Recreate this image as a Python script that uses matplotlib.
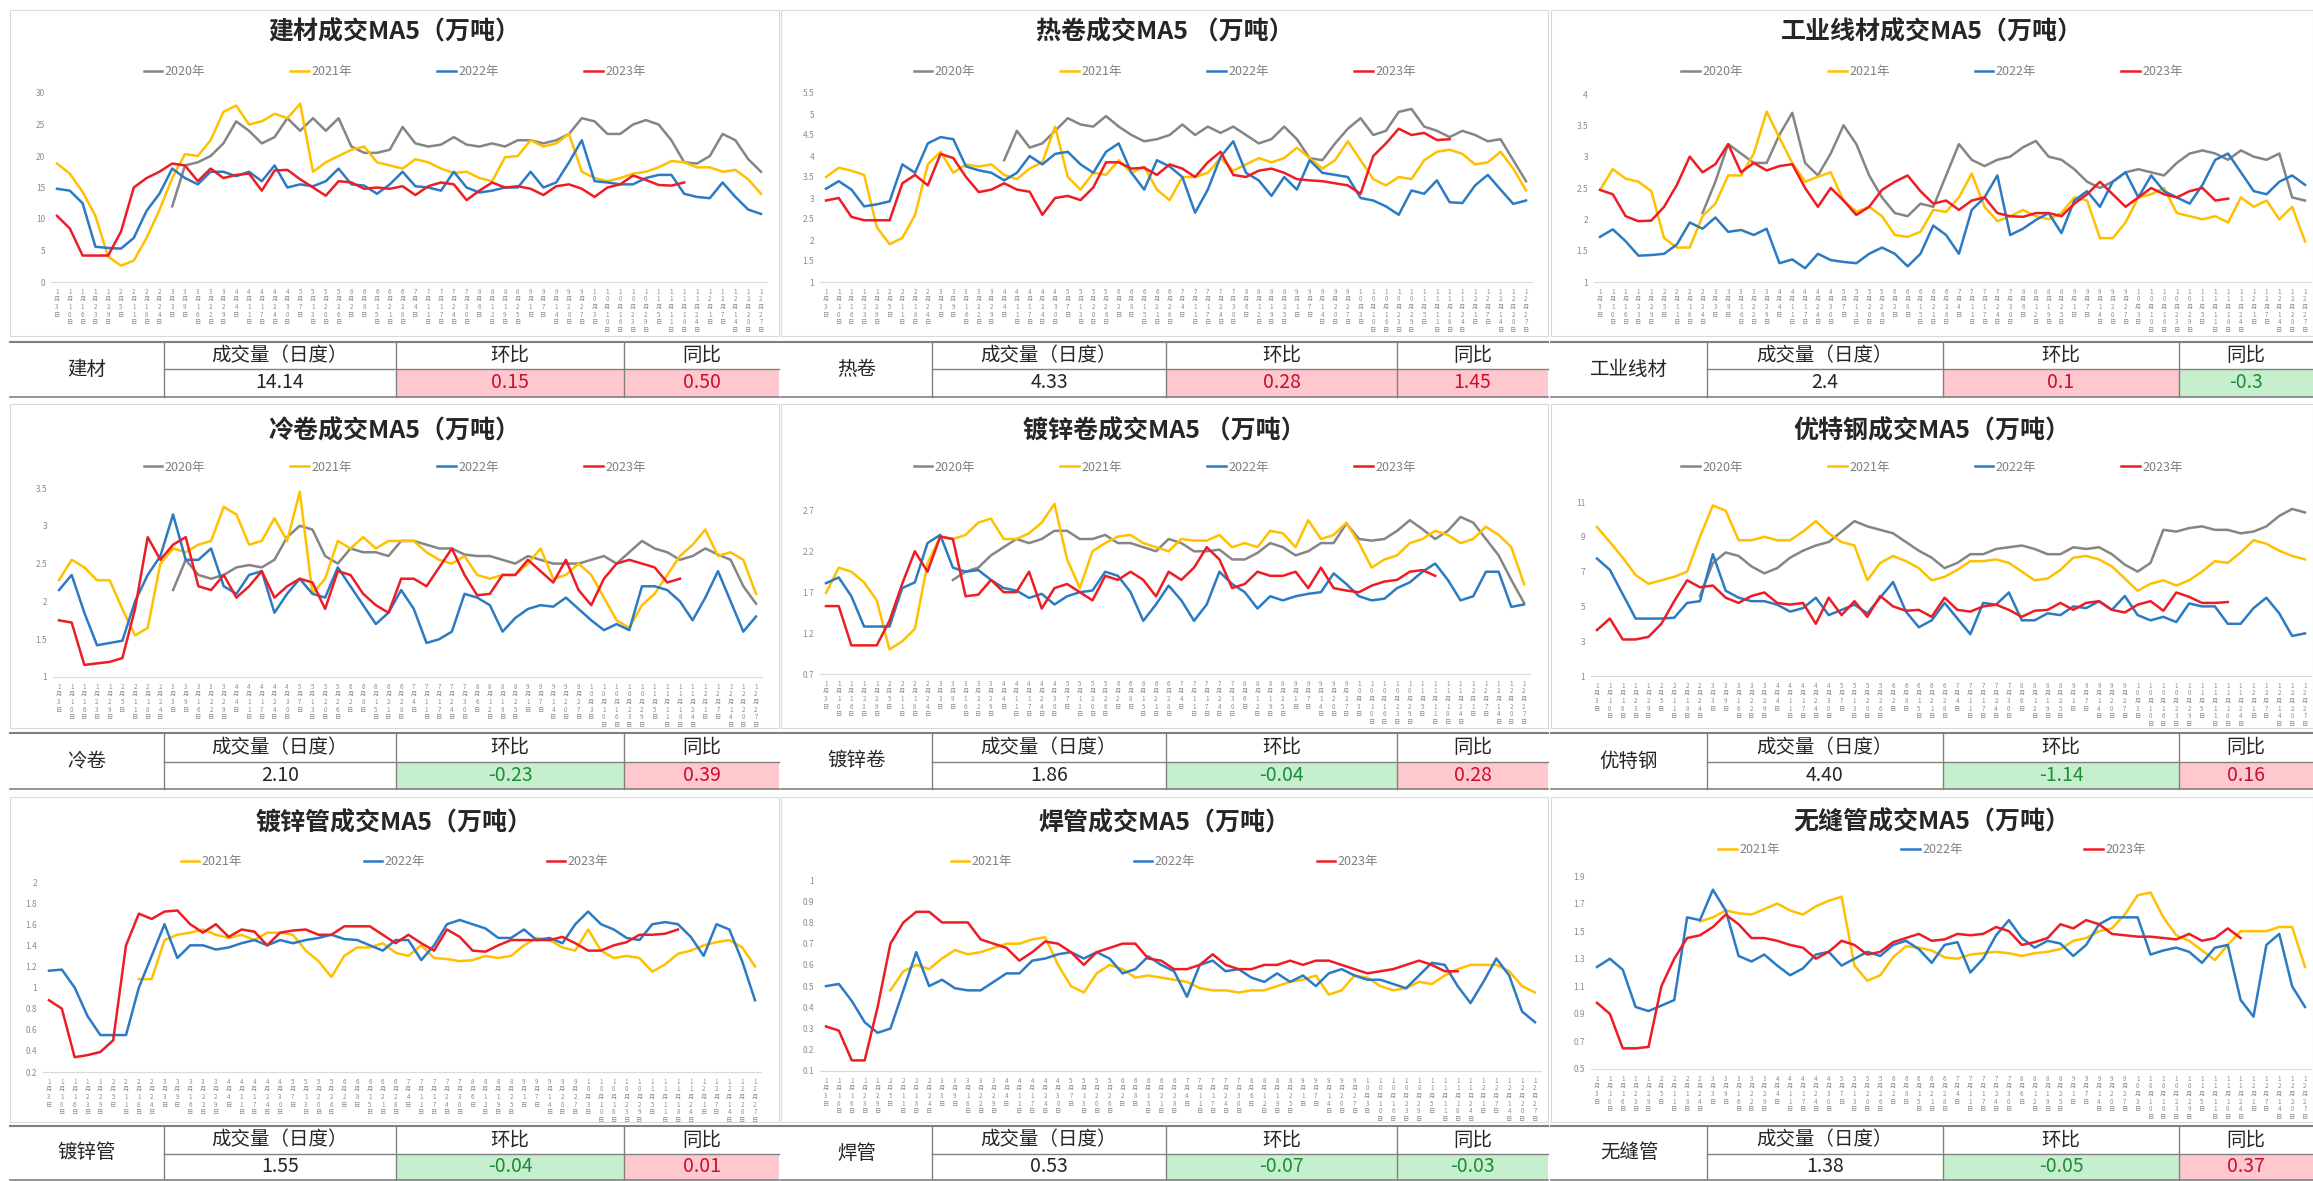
import numpy as np
import matplotlib
matplotlib.use('Agg')
import matplotlib.pyplot as plt
from matplotlib.patches import Rectangle
from matplotlib.lines import Line2D
from matplotlib.ticker import FormatStrFormatter

plt.rcParams['font.family'] = ['Noto Sans CJK SC', 'DejaVu Sans']

W, H = 2313, 1181

# x axis categories (weekly dates)
date_labels = ['1月3日', '1月10日', '1月16日', '1月23日', '1月29日', '2月5日', '2月11日', '2月18日',
               '2月24日', '3月3日', '3月9日', '3月16日', '3月22日', '3月29日', '4月4日', '4月11日',
               '4月17日', '4月24日', '4月30日', '5月7日', '5月13日', '5月20日', '5月26日', '6月2日',
               '6月8日', '6月15日', '6月21日', '6月28日', '7月4日', '7月11日', '7月17日', '7月24日',
               '7月30日', '8月6日', '8月12日', '8月19日', '8月25日', '9月1日', '9月7日', '9月14日',
               '9月20日', '9月27日', '10月3日', '10月10日', '10月16日', '10月23日', '10月29日', '11月5日',
               '11月11日', '11月18日', '11月24日', '12月1日', '12月7日', '12月14日', '12月20日', '12月27日']

years4 = ['2020年', '2021年', '2022年', '2023年']
years3 = ['2021年', '2022年', '2023年']
colors = {'2020年': '#858585', '2021年': '#ffc000', '2022年': '#2b7bc4', '2023年': '#ee1c25'}

# 建材
jc_2020 = [None]*9 + [12, 18.5, 19, 20, 22, 25.5, 24, 22, 23, 26, 24, 26, 24, 26, 21.5, 20.5, 20.5, 21, 24.6, 22,
                      21.5, 21.8, 23, 21.8, 21.5, 22, 21.5, 22.5, 22.5, 22, 22.5, 23.5, 26, 25.5, 23.5, 23.5, 25, 25.7,
                      25, 22.5, 19, 18.8, 20, 23.5, 22.5, 19.5, 17.5]
jc_2021 = [18.8, 17.2, 14.3, 10.5, 4, 2.6, 3.4, 7, 11.4, 16.5, 20.3, 20, 22.5, 27, 28, 25, 25.5, 26.7, 26, 28.3,
           17.5, 19, 20, 21, 21.5, 19, 18.5, 18, 19.5, 19, 18, 17.3, 17.5, 16.5, 16, 19.8, 20, 22.5, 21.5, 22,
           23.5, 17.5, 16.5, 16, 16.5, 17.2, 17.5, 18.2, 19.2, 19, 18.2, 18.2, 17.5, 17.8, 16.3, 14]
jc_2022 = [14.8, 14.5, 12.5, 5.6, 5.4, 5.3, 7, 11.3, 14, 18, 16.5, 15.5, 17.5, 17.5, 16.8, 17.5, 16, 18.5, 15, 15.5,
           15.2, 16, 18, 15.5, 15.3, 14, 15.5, 17.5, 15.2, 15, 14.5, 17.5, 15, 14.2, 14.5, 15, 15, 17.5, 15, 15.8,
           19, 22.5, 16, 15.8, 15.5, 15.5, 16.5, 17, 17, 14, 13.5, 13.3, 15.8, 13.5, 11.5, 10.8]
jc_2023 = [10.5, 8.5, 4.2, 4.2, 4.2, 8, 15, 16.5, 17.5, 18.8, 18.5, 16, 18, 16.5, 17, 17.2, 14.5, 17.7, 17.8, 16.3,
           15, 13.7, 16, 15.8, 14.8, 15, 14.8, 15.2, 13.8, 15.2, 15.8, 15.5, 13, 14.5, 15.8, 15, 15.2, 14.8, 13.8, 15.2,
           15.5, 14.8, 13.5, 15, 15.5, 16.9, 16.2, 15.4, 15.3, 15.8]

# 热卷
rj_2020 = [None]*14 + [3.9, 4.6, 4.2, 4.3, 4.6, 4.9, 4.75, 4.7, 4.95, 4.7, 4.5, 4.35, 4.4, 4.5, 4.75, 4.5, 4.7, 4.55,
                       4.7, 4.5, 4.3, 4.4, 4.7, 4.4, 3.95, 3.9, 4.3, 4.65, 4.9, 4.5, 4.6, 5.05, 5.12, 4.7, 4.6, 4.45,
                       4.6, 4.5, 4.35, 4.4, 3.9, 3.4]
rj_2021 = [3.5, 3.72, 3.65, 3.55, 2.3, 1.9, 2.05, 2.6, 3.8, 4.1, 3.6, 3.8, 3.75, 3.8, 3.55, 3.45, 3.7, 3.85, 4.7, 3.5,
           3.2, 3.6, 3.55, 3.9, 3.6, 3.75, 3.2, 2.95, 3.5, 3.5, 3.6, 3.95, 3.65, 3.8, 3.95, 3.85, 3.95, 4.2, 3.95, 3.7,
           3.9, 4.35, 3.9, 3.45, 3.3, 3.5, 3.45, 3.9, 4.1, 4.15, 4.05, 3.8, 3.85, 4.1, 3.7, 3.18]
rj_2022 = [3.22, 3.4, 3.2, 2.8, 2.85, 2.92, 3.8, 3.6, 4.3, 4.45, 4.4, 3.75, 3.66, 3.6, 3.42, 3.6, 4.0, 3.8, 4.05, 4.1,
           3.8, 3.6, 4.1, 4.3, 3.6, 3.2, 3.9, 3.75, 3.5, 2.65, 3.2, 3.98, 4.35, 3.6, 3.42, 3.05, 3.5, 3.2, 3.9, 3.6,
           3.55, 3.5, 3.0, 2.94, 2.8, 2.6, 3.18, 3.1, 3.42, 2.9, 2.88, 3.3, 3.55, 3.2, 2.86, 2.94]
rj_2023 = [2.94, 3.0, 2.55, 2.47, 2.47, 2.47, 3.35, 3.55, 3.3, 4.05, 3.95, 3.5, 3.14, 3.2, 3.35, 3.2, 3.15, 2.6, 3.0,
           3.05, 2.95, 3.25, 3.85, 3.85, 3.7, 3.72, 3.55, 3.8, 3.7, 3.5, 3.85, 4.1, 3.55, 3.5, 3.65, 3.7, 3.6, 3.45,
           3.42, 3.4, 3.35, 3.3, 3.1, 4.0, 4.3, 4.65, 4.5, 4.55, 4.38, 4.4]

# 工业线材
xc_2020 = [None]*8 + [2.1, 2.6, 3.2, 3.05, 2.9, 2.9, 3.35, 3.7, 2.9, 2.7, 3.05, 3.5, 3.2, 2.7, 2.35, 2.1, 2.05, 2.25,
                      2.2, 2.7, 3.2, 2.95, 2.85, 2.95, 3.0, 3.15, 3.25, 3.0, 2.95, 2.8, 2.6, 2.5, 2.6, 2.75, 2.8, 2.75,
                      2.7, 2.9, 3.05, 3.1, 3.05, 2.95, 3.1, 3.0, 2.95, 3.05, 2.35, 2.3]
xc_2021 = [2.47, 2.8, 2.65, 2.6, 2.45, 1.7, 1.55, 1.55, 2.05, 2.25, 2.7, 2.7, 3.05, 3.72, 3.3, 2.9, 2.6, 2.68, 2.75,
           2.3, 2.12, 2.2, 2.05, 1.75, 1.72, 1.8, 2.15, 2.12, 2.35, 2.73, 2.2, 1.97, 2.05, 2.15, 2.05, 2.0, 2.1, 2.35,
           2.3, 1.7, 1.7, 1.95, 2.35, 2.4, 2.5, 2.1, 2.05, 2.0, 2.05, 1.95, 2.35, 2.2, 2.3, 2.0, 2.2, 1.65]
xc_2022 = [1.72, 1.84, 1.65, 1.42, 1.43, 1.45, 1.6, 1.95, 1.85, 2.03, 1.8, 1.83, 1.75, 1.85, 1.3, 1.36, 1.22, 1.45,
           1.35, 1.32, 1.3, 1.45, 1.55, 1.45, 1.25, 1.45, 1.9, 1.75, 1.45, 2.15, 2.35, 2.7, 1.75, 1.85, 1.99, 2.1,
           1.78, 2.3, 2.45, 2.2, 2.6, 2.75, 2.35, 2.7, 2.45, 2.35, 2.25, 2.55, 2.95, 3.05, 2.75, 2.45, 2.4, 2.6, 2.7, 2.55]
xc_2023 = [2.47, 2.4, 2.05, 1.97, 1.98, 2.2, 2.55, 3.0, 2.75, 2.88, 3.2, 2.75, 2.9, 2.78, 2.85, 2.88, 2.5, 2.2, 2.5,
           2.3, 2.07, 2.2, 2.47, 2.6, 2.7, 2.45, 2.25, 2.3, 2.15, 2.3, 2.35, 2.1, 2.05, 2.04, 2.1, 2.1, 2.05, 2.25,
           2.4, 2.6, 2.4, 2.2, 2.35, 2.5, 2.4, 2.35, 2.45, 2.5, 2.3, 2.33]

# 冷卷
lj_2020 = [None]*9 + [2.15, 2.55, 2.35, 2.3, 2.35, 2.45, 2.48, 2.45, 2.55, 2.85, 3.0, 2.95, 2.6, 2.5, 2.7, 2.65, 2.65,
                      2.6, 2.8, 2.8, 2.75, 2.7, 2.7, 2.62, 2.6, 2.6, 2.55, 2.5, 2.6, 2.55, 2.5, 2.5, 2.5, 2.55, 2.6,
                      2.5, 2.65, 2.8, 2.7, 2.65, 2.55, 2.6, 2.7, 2.62, 2.55, 2.2, 1.97]
lj_2021 = [2.28, 2.55, 2.45, 2.28, 2.28, 1.9, 1.55, 1.65, 2.5, 2.7, 2.65, 2.75, 2.8, 3.25, 3.15, 2.75, 2.8, 3.1, 2.8,
           3.45, 2.1, 2.3, 2.8, 2.7, 2.85, 2.7, 2.8, 2.8, 2.8, 2.65, 2.55, 2.5, 2.6, 2.35, 2.3, 2.35, 2.35, 2.5, 2.7,
           2.3, 2.35, 2.5, 2.35, 2.05, 1.75, 1.65, 1.95, 2.1, 2.35, 2.6, 2.75, 2.95, 2.6, 2.65, 2.55, 2.1]
lj_2022 = [2.15, 2.35, 1.85, 1.42, 1.45, 1.48, 2.0, 2.35, 2.6, 3.15, 2.55, 2.55, 2.7, 2.2, 2.1, 2.35, 2.4, 1.85, 2.1,
           2.3, 2.1, 2.05, 2.45, 2.2, 1.95, 1.7, 1.85, 2.15, 1.9, 1.45, 1.5, 1.6, 2.1, 2.05, 1.95, 1.6, 1.78, 1.9, 1.95,
           1.93, 2.05, 1.9, 1.75, 1.62, 1.7, 1.62, 2.2, 2.2, 2.15, 2.0, 1.75, 2.05, 2.4, 2.0, 1.6, 1.8]
lj_2023 = [1.75, 1.72, 1.16, 1.18, 1.2, 1.25, 1.9, 2.85, 2.55, 2.75, 2.85, 2.2, 2.15, 2.35, 2.05, 2.2, 2.4, 2.05, 2.2,
           2.3, 2.25, 1.9, 2.4, 2.35, 2.1, 1.95, 1.85, 2.3, 2.3, 2.2, 2.45, 2.7, 2.35, 2.08, 2.1, 2.35, 2.35, 2.55,
           2.4, 2.25, 2.55, 2.15, 1.95, 2.3, 2.5, 2.55, 2.5, 2.45, 2.25, 2.3]

# 镀锌卷
dx_2020 = [None]*10 + [1.85, 1.95, 2.0, 2.15, 2.25, 2.35, 2.3, 2.35, 2.45, 2.45, 2.35, 2.35, 2.4, 2.3, 2.3, 2.25, 2.2,
                       2.35, 2.3, 2.2, 2.2, 2.22, 2.1, 2.1, 2.18, 2.3, 2.25, 2.15, 2.2, 2.3, 2.3, 2.54, 2.35, 2.33,
                       2.35, 2.45, 2.58, 2.47, 2.35, 2.45, 2.62, 2.55, 2.35, 2.15, 1.85, 1.57]
dx_2021 = [1.69, 2.0, 1.95, 1.82, 1.6, 1.0, 1.1, 1.25, 2.05, 2.38, 2.35, 2.4, 2.55, 2.6, 2.35, 2.35, 2.42, 2.55, 2.78,
           2.1, 1.75, 2.2, 2.3, 2.38, 2.4, 2.3, 2.25, 2.2, 2.35, 2.33, 2.33, 2.4, 2.25, 2.3, 2.25, 2.45, 2.42, 2.25,
           2.58, 2.35, 2.4, 2.55, 2.3, 2.0, 2.1, 2.15, 2.3, 2.35, 2.45, 2.4, 2.3, 2.35, 2.5, 2.4, 2.25, 1.8]
dx_2022 = [1.81, 1.88, 1.65, 1.28, 1.28, 1.28, 1.75, 1.82, 2.3, 2.4, 2.0, 1.95, 1.97, 1.85, 1.75, 1.72, 1.63, 1.68,
           1.55, 1.65, 1.7, 1.72, 1.95, 1.9, 1.7, 1.35, 1.55, 1.78, 1.6, 1.35, 1.55, 1.95, 1.8, 1.7, 1.5, 1.65, 1.6,
           1.65, 1.68, 1.7, 1.93, 1.8, 1.65, 1.6, 1.62, 1.75, 1.82, 1.95, 2.05, 1.85, 1.6, 1.65, 1.95, 1.95, 1.52, 1.55]
dx_2023 = [1.53, 1.53, 1.05, 1.05, 1.05, 1.35, 1.8, 2.2, 1.95, 2.38, 2.35, 1.65, 1.67, 1.85, 1.7, 1.7, 1.95, 1.5, 1.75,
           1.8, 1.7, 1.6, 1.9, 1.85, 1.95, 1.85, 1.65, 1.95, 1.85, 2.0, 2.25, 2.1, 1.75, 1.8, 1.95, 1.9, 1.9, 1.95,
           1.75, 2.0, 1.75, 1.72, 1.7, 1.78, 1.83, 1.85, 1.95, 1.97, 1.9]

# 优特钢
yt_2020 = [None]*8 + [5.6, 7.5, 8.1, 7.9, 7.3, 6.9, 7.2, 7.8, 8.2, 8.5, 8.7, 9.3, 9.9, 9.6, 9.4, 9.2, 8.7, 8.2, 7.8,
                      7.2, 7.5, 8.0, 8.0, 8.3, 8.4, 8.5, 8.3, 8.0, 8.0, 8.4, 8.3, 8.4, 8.0, 7.4, 7.0, 7.5, 9.4, 9.3,
                      9.5, 9.6, 9.4, 9.4, 9.2, 9.3, 9.6, 10.2, 10.6, 10.4]
yt_2021 = [9.56, 8.7, 7.8, 6.8, 6.3, 6.5, 6.7, 7.0, 9.0, 10.8, 10.5, 8.8, 8.8, 9.0, 8.8, 8.8, 9.3, 9.9, 9.2, 8.7, 8.5,
           6.5, 7.5, 7.9, 7.6, 7.2, 6.5, 6.7, 7.1, 7.6, 7.6, 7.7, 7.5, 7.0, 6.5, 6.6, 7.1, 7.8, 7.9, 7.7, 7.3, 6.6,
           5.9, 6.3, 6.5, 6.2, 6.5, 7.0, 7.6, 7.5, 8.1, 8.8, 8.6, 8.2, 7.9, 7.7]
yt_2022 = [7.75, 7.1, 5.7, 4.3, 4.3, 4.3, 4.35, 5.2, 5.3, 8.0, 5.9, 5.5, 5.3, 5.3, 5.1, 4.7, 4.9, 5.5, 4.5, 4.8, 5.1,
           4.6, 5.5, 6.4, 4.7, 3.8, 4.2, 5.2, 4.3, 3.4, 5.2, 5.1, 5.8, 4.2, 4.2, 4.6, 4.5, 5.0, 4.9, 5.3, 4.8, 5.6,
           4.5, 4.2, 4.4, 4.1, 5.17, 5.0, 5.0, 4.0, 4.0, 4.9, 5.5, 4.6, 3.3, 3.45]
yt_2023 = [3.64, 4.3, 3.1, 3.1, 3.25, 4.0, 5.3, 6.5, 6.1, 6.2, 5.5, 5.2, 5.6, 5.8, 5.2, 5.1, 5.2, 4.0, 5.5, 4.5, 5.3,
           4.4, 5.6, 5.0, 4.75, 4.8, 4.4, 5.5, 4.8, 4.7, 5.0, 5.1, 4.8, 4.4, 4.75, 4.8, 5.2, 4.8, 5.2, 5.3, 4.8, 4.65,
           5.1, 5.3, 4.75, 5.8, 5.55, 5.2, 5.2, 5.25]

# 镀锌管
dg_2021 = [None]*7 + [1.08, 1.08, 1.45, 1.5, 1.52, 1.55, 1.5, 1.47, 1.5, 1.45, 1.52, 1.52, 1.5, 1.35, 1.25, 1.1, 1.3,
                      1.38, 1.38, 1.42, 1.33, 1.3, 1.4, 1.28, 1.27, 1.25, 1.26, 1.3, 1.28, 1.3, 1.4, 1.47, 1.45, 1.38,
                      1.35, 1.55, 1.35, 1.28, 1.3, 1.28, 1.15, 1.22, 1.32, 1.35, 1.4, 1.43, 1.45, 1.38, 1.2]
dg_2022 = [1.16, 1.17, 1.0, 0.73, 0.55, 0.55, 0.55, 1.0, 1.3, 1.6, 1.28, 1.4, 1.4, 1.36, 1.38, 1.42, 1.45, 1.4, 1.45,
           1.42, 1.45, 1.47, 1.5, 1.46, 1.45, 1.4, 1.35, 1.45, 1.45, 1.26, 1.4, 1.6, 1.64, 1.6, 1.56, 1.47, 1.47, 1.55,
           1.45, 1.47, 1.42, 1.6, 1.72, 1.6, 1.55, 1.47, 1.45, 1.6, 1.62, 1.6, 1.48, 1.3, 1.6, 1.55, 1.25, 0.88]
dg_2023 = [0.88, 0.8, 0.34, 0.36, 0.39, 0.5, 1.4, 1.7, 1.65, 1.72, 1.73, 1.6, 1.52, 1.6, 1.48, 1.55, 1.53, 1.4, 1.52,
           1.54, 1.55, 1.5, 1.5, 1.58, 1.58, 1.58, 1.5, 1.42, 1.5, 1.42, 1.35, 1.55, 1.48, 1.35, 1.34, 1.4, 1.45, 1.45,
           1.45, 1.45, 1.48, 1.42, 1.35, 1.35, 1.4, 1.43, 1.5, 1.5, 1.51, 1.55]

# 焊管
hg_2021 = [None]*5 + [0.48, 0.57, 0.6, 0.58, 0.63, 0.67, 0.65, 0.66, 0.68, 0.7, 0.7, 0.72, 0.73, 0.6, 0.5, 0.47, 0.56,
                      0.6, 0.58, 0.54, 0.55, 0.54, 0.53, 0.52, 0.49, 0.48, 0.48, 0.47, 0.48, 0.48, 0.5, 0.52, 0.53,
                      0.55, 0.46, 0.48, 0.55, 0.54, 0.5, 0.48, 0.49, 0.52, 0.51, 0.55, 0.58, 0.6, 0.6, 0.6, 0.57, 0.5,
                      0.47]
hg_2022 = [0.5, 0.51, 0.43, 0.33, 0.28, 0.3, 0.48, 0.66, 0.5, 0.53, 0.49, 0.48, 0.48, 0.52, 0.56, 0.56, 0.62, 0.63,
           0.65, 0.66, 0.63, 0.66, 0.63, 0.56, 0.58, 0.64, 0.6, 0.57, 0.45, 0.6, 0.62, 0.57, 0.58, 0.54, 0.52, 0.56,
           0.52, 0.55, 0.5, 0.56, 0.58, 0.55, 0.53, 0.53, 0.51, 0.49, 0.55, 0.61, 0.6, 0.5, 0.42, 0.52, 0.63, 0.55,
           0.38, 0.33]
hg_2023 = [0.31, 0.29, 0.15, 0.15, 0.4, 0.7, 0.8, 0.85, 0.85, 0.8, 0.8, 0.8, 0.72, 0.7, 0.68, 0.62, 0.66, 0.71, 0.7,
           0.66, 0.6, 0.66, 0.68, 0.7, 0.7, 0.63, 0.62, 0.58, 0.58, 0.6, 0.65, 0.6, 0.58, 0.58, 0.6, 0.6, 0.62, 0.6,
           0.62, 0.62, 0.6, 0.58, 0.56, 0.57, 0.58, 0.6, 0.62, 0.6, 0.57, 0.57]

# 无缝管
wf_2021 = [None]*8 + [1.57, 1.6, 1.65, 1.63, 1.62, 1.66, 1.7, 1.65, 1.62, 1.68, 1.72, 1.75, 1.25, 1.14, 1.18, 1.31,
                      1.39, 1.38, 1.36, 1.31, 1.3, 1.33, 1.34, 1.35, 1.34, 1.32, 1.34, 1.35, 1.37, 1.43, 1.45, 1.5,
                      1.52, 1.62, 1.76, 1.78, 1.6, 1.47, 1.43, 1.36, 1.29, 1.4, 1.5, 1.5, 1.5, 1.53, 1.53, 1.24]
wf_2022 = [1.24, 1.3, 1.22, 0.95, 0.92, 0.96, 1.0, 1.6, 1.58, 1.8, 1.65, 1.32, 1.28, 1.33, 1.25, 1.18, 1.23, 1.33,
           1.35, 1.25, 1.3, 1.35, 1.32, 1.4, 1.43, 1.37, 1.27, 1.4, 1.42, 1.2, 1.3, 1.47, 1.58, 1.45, 1.38, 1.43, 1.41,
           1.32, 1.4, 1.55, 1.6, 1.6, 1.6, 1.33, 1.36, 1.38, 1.35, 1.27, 1.38, 1.4, 1.0, 0.88, 1.4, 1.48, 1.1, 0.95]
wf_2023 = [0.98, 0.9, 0.65, 0.65, 0.66, 1.1, 1.3, 1.45, 1.47, 1.53, 1.62, 1.55, 1.45, 1.45, 1.43, 1.4, 1.38, 1.3, 1.35,
           1.43, 1.4, 1.33, 1.35, 1.42, 1.45, 1.48, 1.43, 1.44, 1.48, 1.47, 1.48, 1.53, 1.5, 1.4, 1.42, 1.45, 1.55,
           1.52, 1.58, 1.55, 1.48, 1.47, 1.46, 1.46, 1.45, 1.44, 1.48, 1.43, 1.45, 1.52, 1.45]

# table values
names = ['建材', '热卷', '工业线材', '冷卷', '镀锌卷', '优特钢', '镀锌管', '焊管', '无缝管']
daily = ['14.14', '4.33', '2.4', '2.10', '1.86', '4.40', '1.55', '0.53', '1.38']
huanbi = ['0.15', '0.28', '0.1', '-0.23', '-0.04', '-1.14', '-0.04', '-0.07', '-0.05']
tongbi = ['0.50', '1.45', '-0.3', '0.39', '0.28', '0.16', '0.01', '-0.03', '0.37']

titles = ['建材成交MA5（万吨）', '热卷成交MA5 （万吨）', '工业线材成交MA5（万吨）',
          '冷卷成交MA5（万吨）', '镀锌卷成交MA5 （万吨）', '优特钢成交MA5（万吨）',
          '镀锌管成交MA5（万吨）', '焊管成交MA5（万吨）', '无缝管成交MA5（万吨）']

series = [[jc_2020, jc_2021, jc_2022, jc_2023], [rj_2020, rj_2021, rj_2022, rj_2023],
          [xc_2020, xc_2021, xc_2022, xc_2023], [lj_2020, lj_2021, lj_2022, lj_2023],
          [dx_2020, dx_2021, dx_2022, dx_2023], [yt_2020, yt_2021, yt_2022, yt_2023],
          [dg_2021, dg_2022, dg_2023], [hg_2021, hg_2022, hg_2023], [wf_2021, wf_2022, wf_2023]]

# y axis (min, max, step)
yaxes = [(0, 30, 5), (1, 5.5, 0.5), (1, 4, 0.5), (1, 3.5, 0.5), (0.7, 2.9, 0.5), (1, 11, 2),
         (0.2, 2, 0.2), (0.1, 1, 0.1), (0.5, 1.9, 0.2)]

# layout in pixels
plot_px = [(57, 761, 93, 282), (826, 1526, 93, 282), (1600, 2305, 94, 282),
           (59, 756, 488, 677), (826, 1524, 494, 674), (1597, 2305, 502, 676),
           (49, 755, 882, 1072), (826, 1535, 880, 1071), (1597, 2305, 876, 1069)]
col_x = [(10, 779), (781, 1548), (1551, 2313)]
row_y = [(10, 336), (404, 728), (797, 1122)]
title_y = [32, 32, 32, 431, 431, 431, 823, 823, 822]
legend_y = [72, 72, 72, 467, 467, 467, 862, 862, 850]
table_y = [(342, 369, 397), (733, 762, 789), (1126, 1154, 1180)]
table_cols = [[10, 164, 396, 624, 779], [781, 932, 1166, 1397, 1548], [1551, 1707, 1943, 2179, 2313]]

fig = plt.figure(figsize=(W / 100, H / 100), dpi=100)
fig.patch.set_facecolor('white')


def fx(x):
    return x / W


def fy(y):
    return 1 - y / H


def line(x0, x1, y0, y1, color, lw):
    fig.add_artist(Line2D([fx(x0), fx(x1)], [fy(y0), fy(y1)], transform=fig.transFigure, color=color, lw=lw))


n = len(date_labels)
xlab = ['\n'.join(s) for s in date_labels]

for k in range(9):
    r, c = k // 3, k % 3
    bx0, bx1 = col_x[c]
    by0, by1 = row_y[r]
    fig.add_artist(Rectangle((fx(bx0), fy(by1)), (bx1 - bx0) / W, (by1 - by0) / H,
                             transform=fig.transFigure, fill=False, ec='#d9d9d9', lw=0.8))
    cx = (bx0 + bx1) / 2

    x0, x1, yt, yb = plot_px[k]
    sp = (x1 - x0) / (n - 1)
    ax = fig.add_axes([fx(x0 - sp / 2), fy(yb), (x1 - x0 + sp) / W, (yb - yt) / H])
    yrs = years4 if len(series[k]) == 4 else years3
    handles = []
    for yr, s in zip(yrs, series[k]):
        v = np.array(s, dtype=float)
        h, = ax.plot(np.arange(len(v)), v, color=colors[yr], lw=1.8, solid_joinstyle='round')
        handles.append(h)
    lo, hi, st = yaxes[k]
    ax.set_xlim(-0.5, n - 0.5)
    ax.set_ylim(lo, hi)
    ax.set_yticks(np.arange(lo, hi + 1e-9, st))
    ax.yaxis.set_major_formatter(FormatStrFormatter('%g'))
    ax.set_xticks(np.arange(n))
    ax.set_xticklabels(xlab, fontsize=4.5, color='#8c8c8c', linespacing=0.95)
    ax.tick_params(axis='y', length=0, labelsize=6, labelcolor='#8c8c8c', pad=4)
    ax.tick_params(axis='x', length=0, pad=4)
    for sname in ['left', 'top', 'right']:
        ax.spines[sname].set_visible(False)
    ax.spines['bottom'].set_color('#d9d9d9')
    ax.spines['bottom'].set_linewidth(0.8)

    fig.text(fx(cx), fy(title_y[k]), titles[k], ha='center', va='center', fontsize=18,
             fontweight='bold', color='#262626')
    cs = 6.8 if len(yrs) == 4 else 9.7
    ax.legend(handles, yrs, loc='center', bbox_to_anchor=(fx(cx), fy(legend_y[k])),
              bbox_transform=fig.transFigure, ncol=len(yrs), frameon=False, fontsize=9,
              handlelength=1.5, handletextpad=0.2, columnspacing=cs, labelcolor='#7f7f7f')

    # table below the chart
    ty0, tym, ty1 = table_y[r]
    g = table_cols[c]
    for j, val in enumerate([huanbi[k], tongbi[k]]):
        neg = val.startswith('-')
        fill = '#c6efce' if neg else '#ffc7ce'
        fig.add_artist(Rectangle((fx(g[2 + j]), fy(ty1)), (g[3 + j] - g[2 + j]) / W, (ty1 - tym) / H,
                                 transform=fig.transFigure, fc=fill, ec='none'))
        fig.text(fx((g[2 + j] + g[3 + j]) / 2), fy((tym + ty1) / 2), val, ha='center', va='center',
                 fontsize=14, color='#1e8c3a' if neg else '#c8102e')
    line(g[0], g[4], ty0, ty0, '#808080', 1.5)
    line(g[0], g[4], ty1, ty1, '#808080', 1.2)
    line(g[1], g[4], tym, tym, '#808080', 1.0)
    for xx in g[1:4]:
        line(xx, xx, ty0, ty1, '#808080', 1.0)
    fig.text(fx((g[0] + g[1]) / 2), fy((ty0 + ty1) / 2), names[k], ha='center', va='center',
             fontsize=14, color='#262626')
    for j, head in enumerate(['成交量（日度）', '环比', '同比']):
        fig.text(fx((g[1 + j] + g[2 + j]) / 2), fy((ty0 + tym) / 2), head, ha='center', va='center',
                 fontsize=14, color='#262626')
    fig.text(fx((g[1] + g[2]) / 2), fy((tym + ty1) / 2), daily[k], ha='center', va='center',
             fontsize=14, color='#262626')

fig.savefig('out.png', dpi=100, facecolor='white')
